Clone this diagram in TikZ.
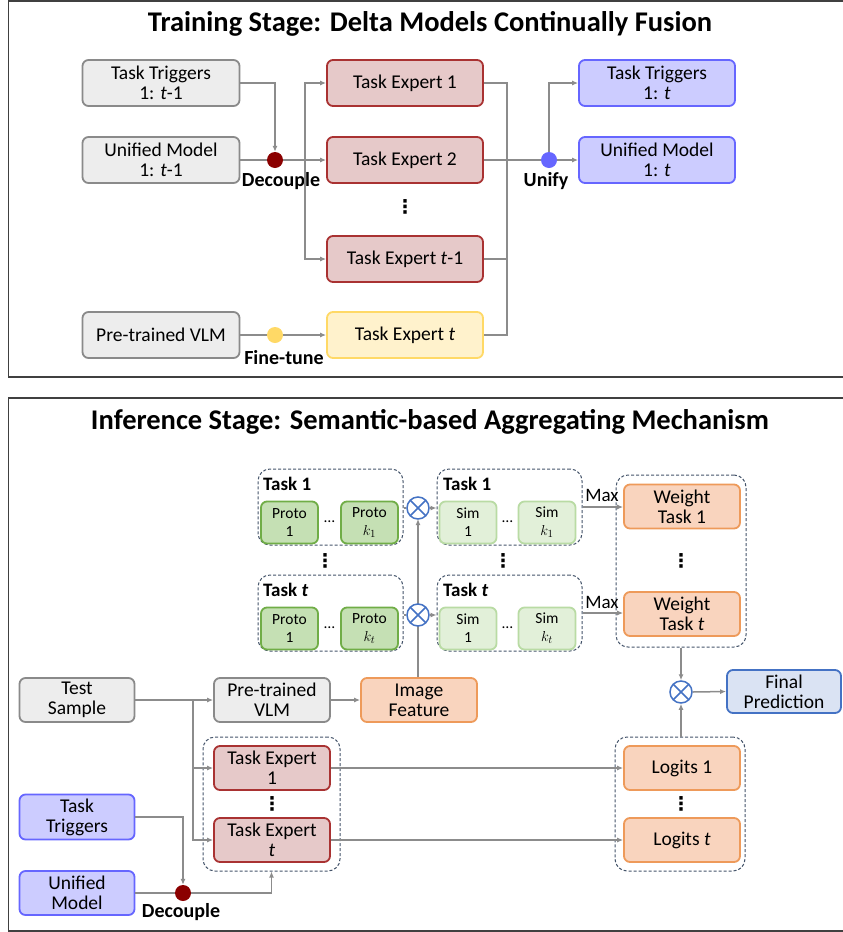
\documentclass[tikz,border=0pt]{standalone}
\usepackage{fontspec}
\setmainfont{Carlito}
\newfontfamily\dejavu{DejaVu Sans}
\usetikzlibrary{arrows.meta,calc}
\definecolor{gfill}{HTML}{EDEDED}
\definecolor{gdraw}{HTML}{8A8A8A}
\definecolor{rfill}{HTML}{E6C9C9}
\definecolor{rdraw}{HTML}{A93232}
\definecolor{yfill}{HTML}{FFF2CC}
\definecolor{ydraw}{HTML}{FFD966}
\definecolor{bfill}{HTML}{CCCCFF}
\definecolor{bdraw}{HTML}{6666FF}
\definecolor{ofill}{HTML}{F9D4BE}
\definecolor{odraw}{HTML}{EE9A5A}
\definecolor{lbfill}{HTML}{DAE3F3}
\definecolor{lbdraw}{HTML}{4472C4}
\definecolor{pfill}{HTML}{C5E0B4}
\definecolor{pdraw}{HTML}{70AD47}
\definecolor{sfill}{HTML}{E2F0D9}
\definecolor{sdraw}{HTML}{B9DBA4}
\definecolor{linec}{HTML}{8C8C8C}
\definecolor{grpc}{HTML}{44546A}
\definecolor{decc}{HTML}{8B0000}
\definecolor{ftc}{HTML}{FFD966}
\definecolor{unc}{HTML}{6666FF}
\definecolor{framec}{HTML}{404040}
\tikzset{
  bx/.style={rounded corners=6pt, line width=1.8pt, align=center, inner sep=0pt,
    font=\fontsize{19.5}{20}\selectfont, text=black},
  bx1/.style={bx, minimum width=157pt, minimum height=46pt},
  bx2/.style={bx, minimum width=116pt, minimum height=44pt},
  graybox/.style={fill=gfill, draw=gdraw},
  redbox/.style={fill=rfill, draw=rdraw},
  yelbox/.style={fill=yfill, draw=ydraw},
  bluebox/.style={fill=bfill, draw=bdraw},
  orbox/.style={fill=ofill, draw=odraw},
  lbbox/.style={fill=lbfill, draw=lbdraw},
  smallbx/.style={rounded corners=6pt, line width=1.8pt, align=center, inner sep=0pt,
    minimum width=57pt, minimum height=42pt, font=\fontsize{15.5}{18}\selectfont},
  protobox/.style={smallbx, fill=pfill, draw=pdraw},
  simbox/.style={smallbx, fill=sfill, draw=sdraw},
  grp/.style={draw=grpc, dashed, line width=1pt, rounded corners=12pt, inner sep=0pt, dash pattern=on 3pt off 2pt},
  dotnode/.style={circle, inner sep=0pt, minimum size=16pt},
  otimes/.style={circle, draw=lbdraw, fill=white, line width=1.5pt, inner sep=0pt, minimum size=22pt,
    path picture={\draw[lbdraw, line width=1.5pt] (path picture bounding box.north west) -- (path picture bounding box.south east)
      (path picture bounding box.north east) -- (path picture bounding box.south west);}},
  conn/.style={draw=linec, line width=1.5pt},
  arr/.style={conn, -{Latex[length=6pt,width=5pt]}},
  lbl/.style={font=\fontsize{20}{20}\selectfont\bfseries, inner sep=0pt},
  grplbl/.style={font=\fontsize{19}{20}\selectfont\bfseries, inner sep=0pt, anchor=west},
  vdots/.style={font=\dejavu\fontsize{19}{20}\selectfont\bfseries, inner sep=0pt},
  ttl/.style={font=\fontsize{28.5}{30}\selectfont\bfseries, inner sep=0pt},
}
\begin{document}
\begin{tikzpicture}[x=1pt,y=-1pt]
\useasboundingbox[fill=white] (0,0) rectangle (843,932);
% frames
\draw[framec, line width=1.3pt] (8.5,1) rectangle (848,377);
\draw[framec, line width=1.3pt] (8.5,398) rectangle (848,931);

% ===================== TOP =====================
\node[ttl] (t1) at (430,24) {Training Stage: Delta Models Continually Fusion};

\node[bx1, graybox] (tt0) at (161,83) {Task Triggers\\1: \textit{t}-1};
\node[bx1, graybox] (um0) at (161,160) {Unified Model\\1: \textit{t}-1};
\node[bx1, graybox] (vlm0) at (161,335) {Pre-trained VLM};

\node[bx1, redbox, minimum width=156pt] (te1) at (405,83) {Task Expert 1};
\node[bx1, redbox, minimum width=156pt] (te2) at (405,160) {Task Expert 2};
\node[vdots] (vd0) at (405,207) {⋮};
\node[bx1, redbox, minimum width=156pt] (tet1) at (405,259) {Task Expert \textit{t}-1};
\node[bx1, yelbox, minimum width=156pt] (tet) at (405,335) {Task Expert \textit{t}};

\node[bx1, bluebox, minimum width=156pt] (tt1) at (657,83) {Task Triggers\\1: \textit{t}};
\node[bx1, bluebox, minimum width=156pt] (um1) at (657,160) {Unified Model\\1: \textit{t}};

\node[dotnode, fill=decc] (dec) at (275,160) {};
\node[dotnode, fill=ftc] (ft) at (275,335) {};
\node[dotnode, fill=unc] (uni) at (549,160) {};
\node[lbl] (decl) at (281,181) {Decouple};
\node[lbl] (ftl) at (284,358) {Fine-tune};
\node[lbl] (unil) at (546,181) {Unify};

\coordinate (br1) at (305,160);
\coordinate (bus) at (507,83);

\draw[arr] (tt0.east) -| (dec.north);
\draw[conn] (um0.east) -- (dec.west);
\draw[arr] (dec.east) -- (te2.west);
\draw[arr] (br1) |- (te1.west);
\draw[arr] (br1) |- (tet1.west);
\draw[conn] (vlm0.east) -- (ft.west);
\draw[arr] (ft.east) -- (tet.west);
\draw[conn] (te1.east) -- (bus) -- (bus |- tet.east) -- (tet.east);
\draw[conn] (tet1.east) -- (tet1.east -| bus);
\draw[conn] (te2.east) -- (uni.west);
\draw[arr] (uni.east) -- (um1.west);
\draw[arr] (uni.north) |- (tt1.west);

% ===================== BOTTOM =====================
\node[ttl] (t2) at (430,422) {Inference Stage: Semantic-based Aggregating Mechanism};

% prototype groups
\node[grp, minimum width=145pt, minimum height=76pt] (pg1) at (330.5,507) {};
\node[grplbl] (pg1l) at (263,484) {Task 1};
\node[protobox] (p11) at (289.5,522.5) {Proto\\1};
\node[protobox] (pk1) at (369.5,522.5) {Proto\\$k_1$};
\node[inner sep=0pt, font=\fontsize{15.5}{18}\selectfont] (pe1) at (329.5,522) {\ldots};

\node[vdots] (vd1) at (325,561) {⋮};

\node[grp, minimum width=145pt, minimum height=76pt] (pgt) at (330.5,613) {};
\node[grplbl] (pgtl) at (263,590) {Task \textit{t}};
\node[protobox] (p1t) at (289.5,628.5) {Proto\\1};
\node[protobox] (pkt) at (369.5,628.5) {Proto\\$k_t$};
\node[inner sep=0pt, font=\fontsize{15.5}{18}\selectfont] (pet) at (329.5,628) {\ldots};

% sim groups
\node[grp, minimum width=145pt, minimum height=76pt] (sg1) at (509.5,507) {};
\node[grplbl] (sg1l) at (443,484) {Task 1};
\node[simbox] (s11) at (468,522.5) {Sim\\1};
\node[simbox] (sk1) at (547,522.5) {Sim\\$k_1$};
\node[inner sep=0pt, font=\fontsize{15.5}{18}\selectfont] (se1) at (507.5,522) {\ldots};

\node[vdots] (vd2) at (503,561) {⋮};

\node[grp, minimum width=145pt, minimum height=76pt] (sgt) at (509.5,613) {};
\node[grplbl] (sgtl) at (443,590) {Task \textit{t}};
\node[simbox] (s1t) at (468,628.5) {Sim\\1};
\node[simbox] (skt) at (547,628.5) {Sim\\$k_t$};
\node[inner sep=0pt, font=\fontsize{15.5}{18}\selectfont] (set) at (507.5,628) {\ldots};

% weight group
\node[grp, minimum width=130pt, minimum height=172pt] (wg) at (681,561) {};
\node[bx2, orbox] (w1) at (682,506.5) {Weight\\Task 1};
\node[vdots] (vd3) at (681,561) {⋮};
\node[bx2, orbox] (wt) at (682,614) {Weight\\Task \textit{t}};

% row of main inputs
\node[bx2, graybox, minimum width=115pt] (ts) at (77,700) {Test\\Sample};
\node[bx2, graybox] (vlm) at (272,700) {Pre-trained\\VLM};
\node[bx2, orbox] (img) at (419,700) {Image\\Feature};
\node[bx2, lbbox, minimum width=114pt, minimum height=43pt] (fp) at (784,691.5) {Final\\Prediction};

% experts
\node[grp, minimum width=137pt, minimum height=134pt] (teg) at (271.5,804) {};
\node[bx2, redbox] (tex1) at (272,768) {Task Expert\\1};
\node[vdots] (vd4) at (272,804) {⋮};
\node[bx2, redbox] (text) at (272,840) {Task Expert\\\textit{t}};

% logits
\node[grp, minimum width=130pt, minimum height=134pt] (lgg) at (680,804) {};
\node[bx2, orbox] (lg1) at (682,768) {Logits 1};
\node[vdots] (vd5) at (681,804) {⋮};
\node[bx2, orbox] (lgt) at (682,840) {Logits \textit{t}};

% triggers / unified
\node[bx2, bluebox, minimum width=115pt, minimum height=45pt] (trig) at (77,817) {Task\\Triggers};
\node[bx2, bluebox, minimum width=115pt] (umb) at (77,893) {Unified\\Model};
\node[dotnode, fill=decc] (decb) at (183,893) {};
\node[lbl] (decbl) at (181,912) {Decouple};

% connectors bottom
\coordinate (br2) at (193,700);
\draw[arr] (ts.east) -- (vlm.west);
\draw[arr] (br2) |- (tex1.west);
\draw[arr] (br2) |- (text.west);
\draw[arr] (vlm.east) -- (img.west);
\draw[arr] (img.north -| 418,0) -- (418,519);
\draw[arr] (tex1.east) -- (lg1.west);
\draw[arr] (text.east) -- (lgt.west);
\draw[arr] (trig.east) -| (decb.north);
\draw[conn] (umb.east) -- (decb.west);
\draw[arr] (decb.east) -| (teg.south);
\draw[arr] (sg1.east |- 0,507) -- (w1.west |- 0,507);
\draw[arr] (sgt.east |- 0,613) -- (wt.west |- 0,613);
\node[font=\fontsize{19}{20}\selectfont, inner sep=0pt] (max1) at (602,495) {Max};
\node[font=\fontsize{19}{20}\selectfont, inner sep=0pt] (maxt) at (602,602) {Max};

\node[otimes] (ox1) at (418,508) {};
\node[otimes] (oxt) at (418,615) {};
\node[otimes] (fx) at (681,692) {};
\draw[conn] (pg1.east |- ox1) -- (ox1.west);
\draw[arr] (ox1.east) -- (sg1.west |- ox1);
\draw[conn] (pgt.east |- oxt) -- (oxt.west);
\draw[arr] (oxt.east) -- (sgt.west |- oxt);
\draw[arr] (wg.south -| fx) -- (fx.north);
\draw[arr] (lgg.north -| fx) -- (fx.south);
\draw[arr] (fx.east) -- (fp.west);
\end{tikzpicture}
\end{document}
